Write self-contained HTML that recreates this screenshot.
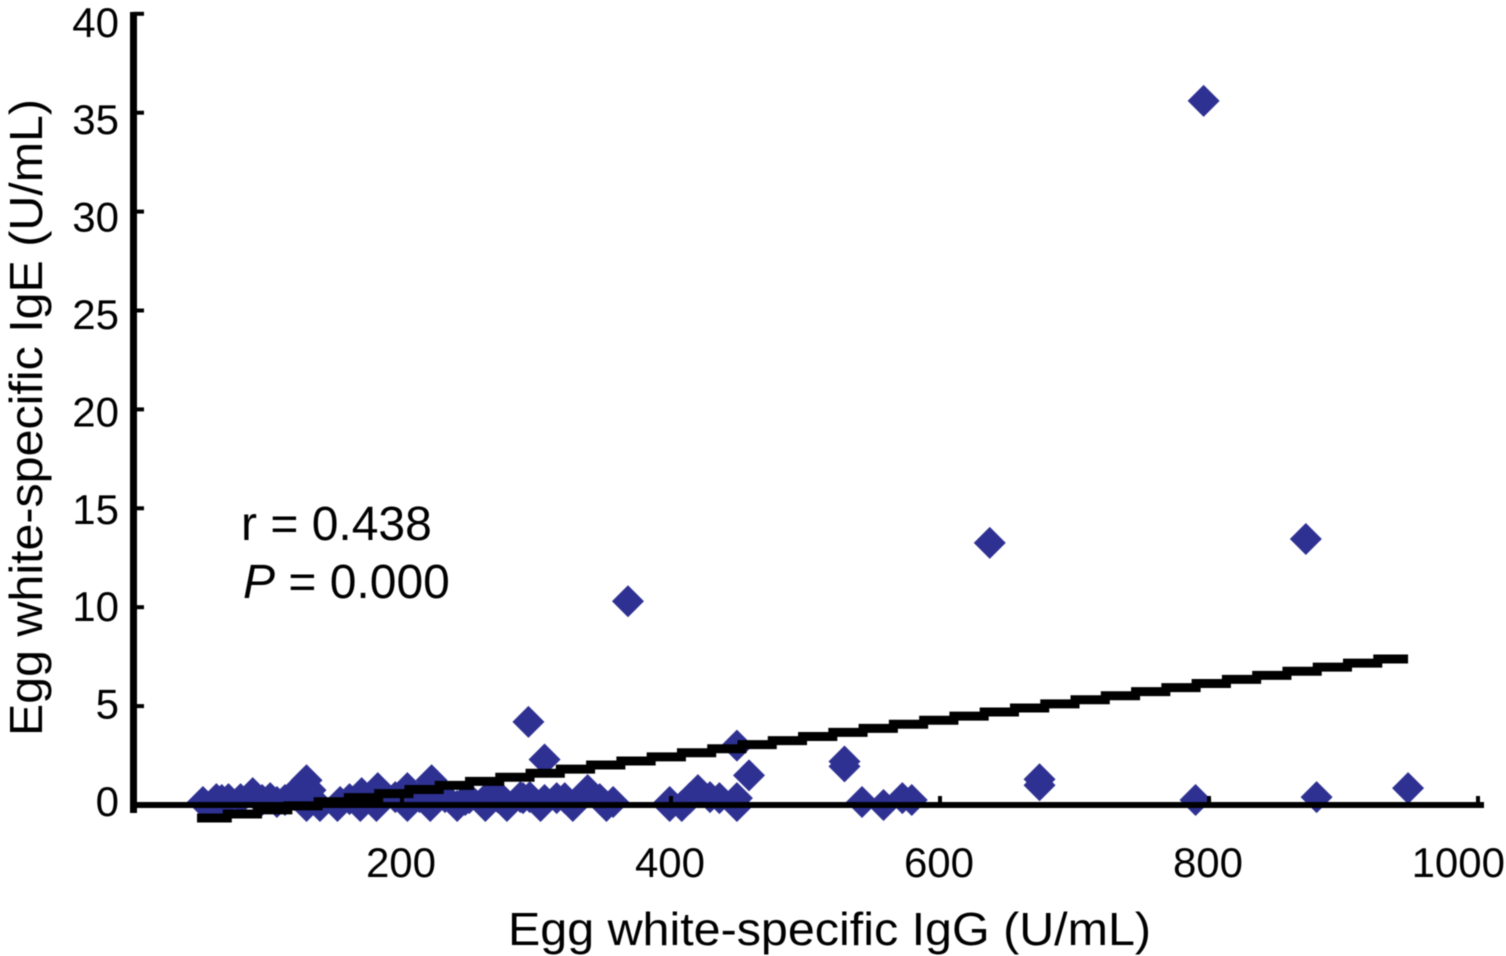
<!DOCTYPE html>
<html lang="en">
<head>
<meta charset="utf-8">
<title>Egg white-specific IgG vs IgE</title>
<style>
html,body{margin:0;padding:0;background:#fff;width:1506px;height:956px;overflow:hidden}
svg{display:block;filter:blur(0.5px)}
text{font-family:"Liberation Sans",Arial,sans-serif;fill:#000}
</style>
</head>
<body>
<svg id="chart" xmlns="http://www.w3.org/2000/svg" width="1506" height="956" viewBox="0 0 1506 956"></svg>
<script>
const xTicks = [200, 400, 600, 800, 1000];
const yTicks = [0, 5, 10, 15, 20, 25, 30, 35, 40];
const igG = [796,637,872,368,294,306,449,458,529,529,674,674,790,880,948,542,558,572,579,
  52,61,66,71,89,96,107,113,120,124,129,132,129,139,152,154,169,170,181,182,204,204,221,222,
  241,247,262,265,278,271,288,303,306,290,315,327,338,352,357,399,399,408,420,436,449,449,
  62,80,102,161,195,213,232,250,273,295,321,347,414,429];
const igE = [35.6,13.25,13.45,10.3,4.2,2.3,3.0,1.5,2.2,1.95,1.3,1.0,0.25,0.4,0.85,0.15,0,0.35,0.25,
  0.15,-0.05,0.25,0.3,0.6,0.25,0.15,0.25,0.5,0.9,1.25,0.75,-0.05,-0.05,-0.05,0.15,-0.05,0.6,-0.05,0.85,-0.05,0.85,-0.05,1.25,
  -0.05,0.25,-0.05,0.5,-0.05,0.4,0.4,-0.05,0.25,0.35,0.35,-0.05,0.75,-0.05,0.15,0.15,-0.05,-0.05,0.75,0.35,0.35,-0.05,
  0.3,0.3,0.35,0.3,0.4,0.4,0.4,0.35,0.4,0.4,0.35,0.3,0.35,0.4];
const trendX = [47.6, 948];
const trendY = [-0.66, 7.38];

const NS = 'http://www.w3.org/2000/svg';
const svg = document.getElementById('chart');
const xScale = v => 133 + 1.345 * v;
const yScale = v => 805 - 19.78 * v;
const yLabelScale = v => 816 - 19.48 * v;

function make(tag, attrs, text) {
  const el = document.createElementNS(NS, tag);
  for (const k in attrs) el.setAttribute(k, attrs[k]);
  if (text !== undefined) el.textContent = text;
  return el;
}

// points
igG.forEach((gx, i) => {
  const cx = xScale(gx), cy = yScale(igE[i]), r = 16;
  const p = make('path', {d: `M${cx} ${cy - r}L${cx + r} ${cy}L${cx} ${cy + r}L${cx - r} ${cy}Z`, fill: '#2e3192'});
  
  
  svg.appendChild(p);
});

// y axis ticks and labels
yTicks.forEach(v => {
  const y = yScale(v);
  if (v !== 0) {
    const t = make('rect', {x: 133, y: y - 2, width: 11, height: 4, fill: '#000'});
    
    
    svg.appendChild(t);
  }
  const l = make('text', {x: 119, y: yLabelScale(v), 'text-anchor': 'end', 'font-size': 42}, String(v));
  
  
  svg.appendChild(l);
});

// x axis ticks and labels
xTicks.forEach((v, i) => {
  const x = xScale(v);
  const t = make('rect', {x: x - 2, y: 796, width: 4, height: 9, fill: '#000'});
  
  
  svg.appendChild(t);
  const last = i === xTicks.length - 1;
  const l = make('text', {x: last ? 1505 : x - 1, y: 877, 'text-anchor': last ? 'end' : 'middle', 'font-size': 42}, String(v));
  
  
  svg.appendChild(l);
});

// axes
const yAxis = make('rect', {x: 130, y: 12, width: 7, height: 801, fill: '#000'});


svg.appendChild(yAxis);
const xAxis = make('rect', {x: 130, y: 802, width: 1354, height: 6, fill: '#000'});


svg.appendChild(xAxis);

// stair-stepped trend line, as rasterised in the source figure
const x0 = xScale(trendX[0]), x1 = xScale(trendX[1]);
const y0 = yScale(trendY[0]), y1 = yScale(trendY[1]);
const steps = Math.round((x1 - x0) / 30);
let d = `M${x0} ${y0}`;
for (let i = 0; i < steps; i++) {
  const xa = x0 + (x1 - x0) * (i + 1) / steps;
  const ya = y0 + (y1 - y0) * i / (steps - 1);
  d += `L${xa} ${ya}`;
  if (i < steps - 1) d += `L${xa} ${y0 + (y1 - y0) * (i + 1) / (steps - 1)}`;
}
const trend = make('path', {d: d, fill: 'none', stroke: '#000', 'stroke-width': 9});


svg.appendChild(trend);

// titles
const xTitle = make('text', {x: 508, y: 945, 'font-size': 46, textLength: 643, lengthAdjust: 'spacingAndGlyphs'}, 'Egg white-specific IgG (U/mL)');


svg.appendChild(xTitle);
const yTitle = make('text', {transform: 'translate(42 736) rotate(-90)', 'font-size': 46, textLength: 637, lengthAdjust: 'spacingAndGlyphs'}, 'Egg white-specific IgE (U/mL)');


svg.appendChild(yTitle);

// annotation
const rText = make('text', {x: 241, y: 540, 'font-size': 48}, 'r = 0.438');


svg.appendChild(rText);
const pText = make('text', {x: 243, y: 598, 'font-size': 48});


const pItalic = make('tspan', {'font-style': 'italic'}, 'P');
pText.appendChild(pItalic);
pText.appendChild(document.createTextNode(' = 0.000'));
svg.appendChild(pText);
</script>
</body>
</html>
